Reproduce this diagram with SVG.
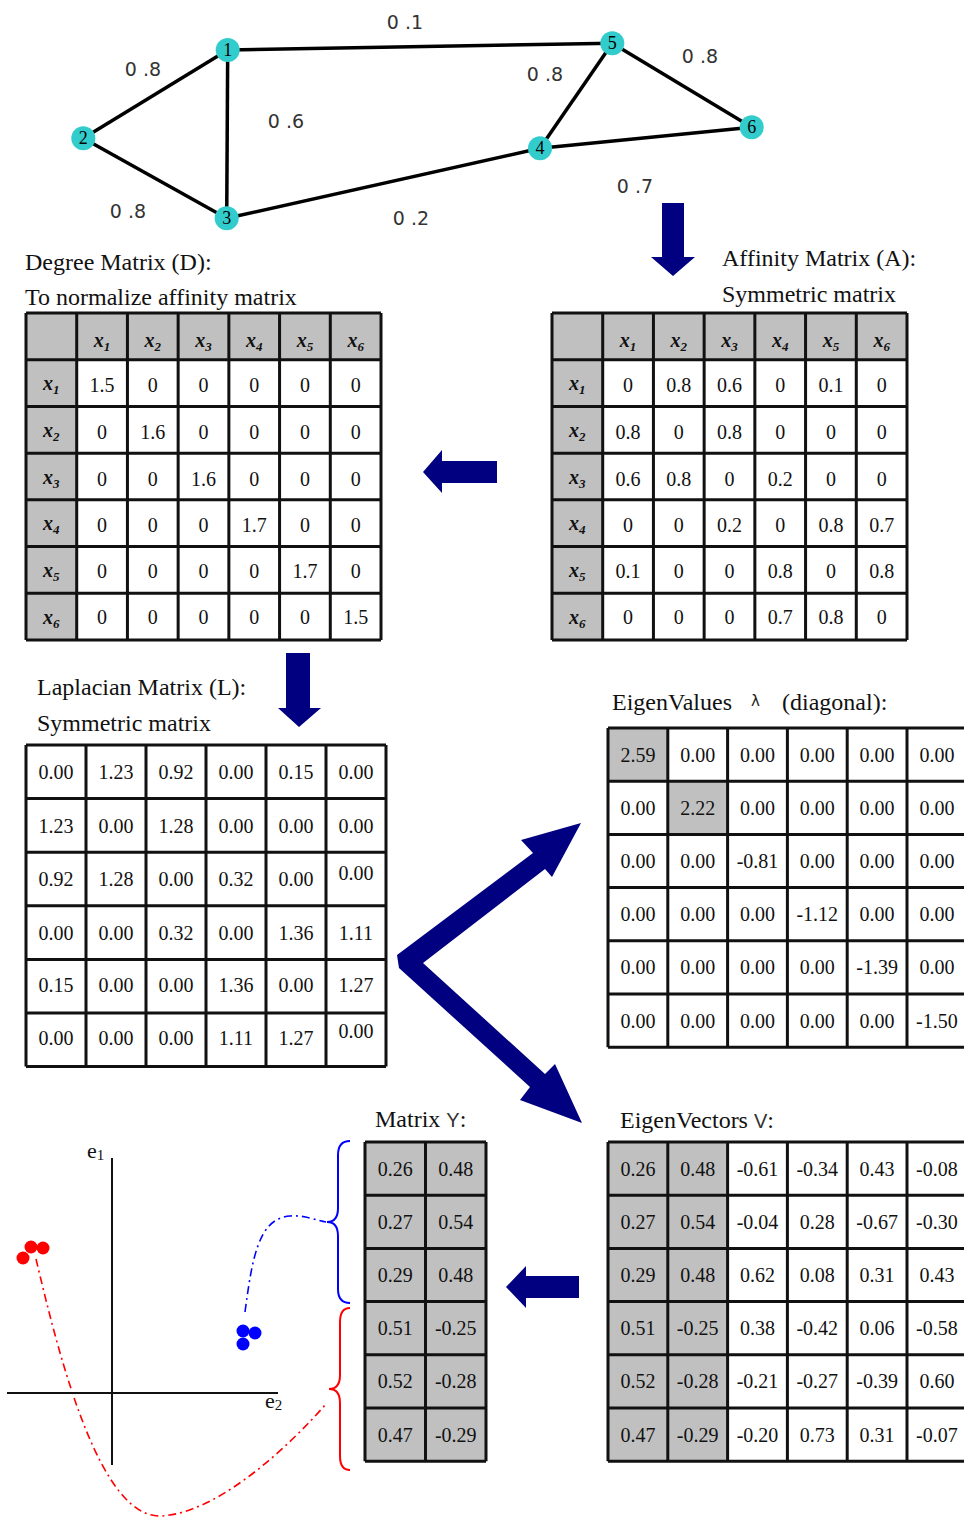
<svg xmlns="http://www.w3.org/2000/svg" width="964" height="1517" viewBox="0 0 964 1517">
<style>
.t{font-family:"Liberation Serif",serif;font-size:20px;text-anchor:middle;fill:#111}
.h{font-family:"Liberation Serif",serif;font-size:20px;font-style:italic;font-weight:bold;text-anchor:middle;fill:#111}
.lbl{font-family:"Liberation Serif",serif;font-size:24px;fill:#111}
.el{font-family:"DejaVu Sans",sans-serif;font-size:19px;fill:#333;text-anchor:middle}
.nl{font-family:"Liberation Serif",serif;font-size:18px;fill:#000;text-anchor:middle}
.edge{stroke:#000;stroke-width:3.5;fill:none}
.node{fill:#33CCCC}
.grid{fill:none;stroke:#111;stroke-width:3}
.gray{fill:#c0c0c0}
.arrow{fill:#000080}
</style>
<rect width="964" height="1517" fill="#fff"/>

<g id="connectors">
  <line class="edge" x1="227.7" y1="50" x2="83.3" y2="138.3"/>
  <line class="edge" x1="227.7" y1="50" x2="226.7" y2="218.3"/>
  <line class="edge" x1="227.7" y1="50" x2="612.3" y2="43.3"/>
  <line class="edge" x1="83.3" y1="138.3" x2="226.7" y2="218.3"/>
  <line class="edge" x1="226.7" y1="218.3" x2="540" y2="148.3"/>
  <line class="edge" x1="540" y1="148.3" x2="612.3" y2="43.3"/>
  <line class="edge" x1="540" y1="148.3" x2="751.7" y2="127.3"/>
  <line class="edge" x1="612.3" y1="43.3" x2="751.7" y2="127.3"/>
  <polygon class="arrow" points="662,203 684,203 684,257 695,257 673,276 651,257 662,257"/>
  <polygon class="arrow" points="423,472 442,450 442,461 497,461 497,483 442,483 442,493"/>
  <polygon class="arrow" points="286,653 310,653 310,708 321,708 299,727 278,708 286,708"/>
  <polygon class="arrow" points="397,955 533,853 521,840 581,823 552,877 545,869 423,963 545,1074 555,1064 582,1123 520,1100 530,1087 399,968"/>
  <polygon class="arrow" points="506,1287 526,1266 526,1276 579,1276 579,1298 526,1298 526,1308"/>
  <path d="M350,1141 Q338,1141 338,1155 L338,1208 Q338,1222 327,1222 Q338,1222 338,1236 L338,1289 Q338,1303 350,1303" fill="none" stroke="#0000ff" stroke-width="2"/>
  <path d="M350,1308 Q340,1308 340,1322 L340,1375 Q340,1389 329,1389 Q340,1389 340,1403 L340,1456 Q340,1470 350,1470" fill="none" stroke="#ff0000" stroke-width="2"/>
  <path d="M245,1312 C252,1260 258,1218 290,1216 C305,1215 315,1220 326,1222" fill="none" stroke="#0000ff" stroke-width="1.6" stroke-dasharray="8,4,2,4"/>
  <path d="M36,1259 C60,1360 100,1520 162,1516 C220,1512 290,1445 326,1404" fill="none" stroke="#ff0000" stroke-width="1.6" stroke-dasharray="8,4,2,4"/>
</g>

<g id="edge-labels">
  <text class="el" x="405" y="29">0 .1</text>
  <text class="el" x="143" y="76">0 .8</text>
  <text class="el" x="286" y="128">0 .6</text>
  <text class="el" x="128" y="218">0 .8</text>
  <text class="el" x="411" y="225">0 .2</text>
  <text class="el" x="545" y="81">0 .8</text>
  <text class="el" x="700" y="63">0 .8</text>
  <text class="el" x="635" y="193">0 .7</text>
</g>

<g id="n1"><circle class="node" cx="227.7" cy="50" r="12"/><text class="nl" x="227.7" y="56">1</text></g>
<g id="n2"><circle class="node" cx="83.3" cy="138.3" r="12"/><text class="nl" x="83.3" y="144.3">2</text></g>
<g id="n3"><circle class="node" cx="226.7" cy="218.3" r="12"/><text class="nl" x="226.7" y="224.3">3</text></g>
<g id="n4"><circle class="node" cx="540" cy="148.3" r="12"/><text class="nl" x="540" y="154.3">4</text></g>
<g id="n5"><circle class="node" cx="612.3" cy="43.3" r="12"/><text class="nl" x="612.3" y="49.3">5</text></g>
<g id="n6"><circle class="node" cx="751.7" cy="127.3" r="12"/><text class="nl" x="751.7" y="133.3">6</text></g>

<g id="degree-matrix">
  <text class="lbl" x="25" y="270">Degree Matrix (D):</text>
  <text class="lbl" x="25" y="305">To normalize affinity matrix</text>
  <rect x="26" y="313" width="355" height="327" fill="#fff"/>
  <rect class="gray" x="26" y="313" width="355" height="46.71"/>
  <rect class="gray" x="26" y="313" width="50.71" height="327"/>
  <path class="grid" d="M26,313V640M76.71,313V640M127.43,313V640M178.14,313V640M228.86,313V640M279.57,313V640M330.29,313V640M381,313V640M26,313H381M26,359.71H381M26,406.43H381M26,453.14H381M26,499.86H381M26,546.57H381M26,593.29H381M26,640H381"/>
  <text class="h" x="102.07" y="347"><tspan>x</tspan><tspan font-size="13" dy="4">1</tspan></text>
  <text class="h" x="152.79" y="347"><tspan>x</tspan><tspan font-size="13" dy="4">2</tspan></text>
  <text class="h" x="203.5" y="347"><tspan>x</tspan><tspan font-size="13" dy="4">3</tspan></text>
  <text class="h" x="254.21" y="347"><tspan>x</tspan><tspan font-size="13" dy="4">4</tspan></text>
  <text class="h" x="304.93" y="347"><tspan>x</tspan><tspan font-size="13" dy="4">5</tspan></text>
  <text class="h" x="355.64" y="347"><tspan>x</tspan><tspan font-size="13" dy="4">6</tspan></text>
  <text class="h" x="51.36" y="390"><tspan>x</tspan><tspan font-size="13" dy="4">1</tspan></text>
  <text class="h" x="51.36" y="437"><tspan>x</tspan><tspan font-size="13" dy="4">2</tspan></text>
  <text class="h" x="51.36" y="483.5"><tspan>x</tspan><tspan font-size="13" dy="4">3</tspan></text>
  <text class="h" x="51.36" y="530"><tspan>x</tspan><tspan font-size="13" dy="4">4</tspan></text>
  <text class="h" x="51.36" y="577"><tspan>x</tspan><tspan font-size="13" dy="4">5</tspan></text>
  <text class="h" x="51.36" y="623.5"><tspan>x</tspan><tspan font-size="13" dy="4">6</tspan></text>
  <text class="t" x="102.07" y="392">1.5</text><text class="t" x="152.79" y="392">0</text><text class="t" x="203.5" y="392">0</text><text class="t" x="254.21" y="392">0</text><text class="t" x="304.93" y="392">0</text><text class="t" x="355.64" y="392">0</text>
  <text class="t" x="102.07" y="439">0</text><text class="t" x="152.79" y="439">1.6</text><text class="t" x="203.5" y="439">0</text><text class="t" x="254.21" y="439">0</text><text class="t" x="304.93" y="439">0</text><text class="t" x="355.64" y="439">0</text>
  <text class="t" x="102.07" y="485.5">0</text><text class="t" x="152.79" y="485.5">0</text><text class="t" x="203.5" y="485.5">1.6</text><text class="t" x="254.21" y="485.5">0</text><text class="t" x="304.93" y="485.5">0</text><text class="t" x="355.64" y="485.5">0</text>
  <text class="t" x="102.07" y="531.5">0</text><text class="t" x="152.79" y="531.5">0</text><text class="t" x="203.5" y="531.5">0</text><text class="t" x="254.21" y="531.5">1.7</text><text class="t" x="304.93" y="531.5">0</text><text class="t" x="355.64" y="531.5">0</text>
  <text class="t" x="102.07" y="578">0</text><text class="t" x="152.79" y="578">0</text><text class="t" x="203.5" y="578">0</text><text class="t" x="254.21" y="578">0</text><text class="t" x="304.93" y="578">1.7</text><text class="t" x="355.64" y="578">0</text>
  <text class="t" x="102.07" y="624">0</text><text class="t" x="152.79" y="624">0</text><text class="t" x="203.5" y="624">0</text><text class="t" x="254.21" y="624">0</text><text class="t" x="304.93" y="624">0</text><text class="t" x="355.64" y="624">1.5</text>
</g>

<g id="affinity-matrix">
  <text class="lbl" x="722" y="266">Affinity Matrix (A):</text>
  <text class="lbl" x="722" y="302">Symmetric matrix</text>
  <rect x="552" y="313" width="355" height="327" fill="#fff"/>
  <rect class="gray" x="552" y="313" width="355" height="46.71"/>
  <rect class="gray" x="552" y="313" width="50.71" height="327"/>
  <path class="grid" d="M552,313V640M602.71,313V640M653.43,313V640M704.14,313V640M754.86,313V640M805.57,313V640M856.29,313V640M907,313V640M552,313H907M552,359.71H907M552,406.43H907M552,453.14H907M552,499.86H907M552,546.57H907M552,593.29H907M552,640H907"/>
  <text class="h" x="628.07" y="347"><tspan>x</tspan><tspan font-size="13" dy="4">1</tspan></text>
  <text class="h" x="678.79" y="347"><tspan>x</tspan><tspan font-size="13" dy="4">2</tspan></text>
  <text class="h" x="729.5" y="347"><tspan>x</tspan><tspan font-size="13" dy="4">3</tspan></text>
  <text class="h" x="780.21" y="347"><tspan>x</tspan><tspan font-size="13" dy="4">4</tspan></text>
  <text class="h" x="830.93" y="347"><tspan>x</tspan><tspan font-size="13" dy="4">5</tspan></text>
  <text class="h" x="881.64" y="347"><tspan>x</tspan><tspan font-size="13" dy="4">6</tspan></text>
  <text class="h" x="577.36" y="390"><tspan>x</tspan><tspan font-size="13" dy="4">1</tspan></text>
  <text class="h" x="577.36" y="437"><tspan>x</tspan><tspan font-size="13" dy="4">2</tspan></text>
  <text class="h" x="577.36" y="483.5"><tspan>x</tspan><tspan font-size="13" dy="4">3</tspan></text>
  <text class="h" x="577.36" y="530"><tspan>x</tspan><tspan font-size="13" dy="4">4</tspan></text>
  <text class="h" x="577.36" y="577"><tspan>x</tspan><tspan font-size="13" dy="4">5</tspan></text>
  <text class="h" x="577.36" y="623.5"><tspan>x</tspan><tspan font-size="13" dy="4">6</tspan></text>
  <text class="t" x="628.07" y="392">0</text><text class="t" x="678.79" y="392">0.8</text><text class="t" x="729.5" y="392">0.6</text><text class="t" x="780.21" y="392">0</text><text class="t" x="830.93" y="392">0.1</text><text class="t" x="881.64" y="392">0</text>
  <text class="t" x="628.07" y="439">0.8</text><text class="t" x="678.79" y="439">0</text><text class="t" x="729.5" y="439">0.8</text><text class="t" x="780.21" y="439">0</text><text class="t" x="830.93" y="439">0</text><text class="t" x="881.64" y="439">0</text>
  <text class="t" x="628.07" y="485.5">0.6</text><text class="t" x="678.79" y="485.5">0.8</text><text class="t" x="729.5" y="485.5">0</text><text class="t" x="780.21" y="485.5">0.2</text><text class="t" x="830.93" y="485.5">0</text><text class="t" x="881.64" y="485.5">0</text>
  <text class="t" x="628.07" y="531.5">0</text><text class="t" x="678.79" y="531.5">0</text><text class="t" x="729.5" y="531.5">0.2</text><text class="t" x="780.21" y="531.5">0</text><text class="t" x="830.93" y="531.5">0.8</text><text class="t" x="881.64" y="531.5">0.7</text>
  <text class="t" x="628.07" y="578">0.1</text><text class="t" x="678.79" y="578">0</text><text class="t" x="729.5" y="578">0</text><text class="t" x="780.21" y="578">0.8</text><text class="t" x="830.93" y="578">0</text><text class="t" x="881.64" y="578">0.8</text>
  <text class="t" x="628.07" y="624">0</text><text class="t" x="678.79" y="624">0</text><text class="t" x="729.5" y="624">0</text><text class="t" x="780.21" y="624">0.7</text><text class="t" x="830.93" y="624">0.8</text><text class="t" x="881.64" y="624">0</text>
</g>

<g id="laplacian-matrix">
  <text class="lbl" x="37" y="695">Laplacian Matrix (L):</text>
  <text class="lbl" x="37" y="731">Symmetric matrix</text>
  <rect x="26" y="745" width="360" height="321.6" fill="#fff"/>
  <path class="grid" d="M26,745V1066.6M86,745V1066.6M146,745V1066.6M206,745V1066.6M266,745V1066.6M326,745V1066.6M386,745V1066.6M26,745H386M26,798.6H386M26,852.2H386M26,905.8H386M26,959.4H386M26,1013H386M26,1066.6H386"/>
  <text class="t" x="56" y="779">0.00</text><text class="t" x="116" y="779">1.23</text><text class="t" x="176" y="779">0.92</text><text class="t" x="236" y="779">0.00</text><text class="t" x="296" y="779">0.15</text><text class="t" x="356" y="779">0.00</text>
  <text class="t" x="56" y="833">1.23</text><text class="t" x="116" y="833">0.00</text><text class="t" x="176" y="833">1.28</text><text class="t" x="236" y="833">0.00</text><text class="t" x="296" y="833">0.00</text><text class="t" x="356" y="833">0.00</text>
  <text class="t" x="56" y="886">0.92</text><text class="t" x="116" y="886">1.28</text><text class="t" x="176" y="886">0.00</text><text class="t" x="236" y="886">0.32</text><text class="t" x="296" y="886">0.00</text><text class="t" x="356" y="880">0.00</text>
  <text class="t" x="56" y="940">0.00</text><text class="t" x="116" y="940">0.00</text><text class="t" x="176" y="940">0.32</text><text class="t" x="236" y="940">0.00</text><text class="t" x="296" y="940">1.36</text><text class="t" x="356" y="940">1.11</text>
  <text class="t" x="56" y="992">0.15</text><text class="t" x="116" y="992">0.00</text><text class="t" x="176" y="992">0.00</text><text class="t" x="236" y="992">1.36</text><text class="t" x="296" y="992">0.00</text><text class="t" x="356" y="992">1.27</text>
  <text class="t" x="56" y="1045">0.00</text><text class="t" x="116" y="1045">0.00</text><text class="t" x="176" y="1045">0.00</text><text class="t" x="236" y="1045">1.11</text><text class="t" x="296" y="1045">1.27</text><text class="t" x="356" y="1038">0.00</text>
</g>

<g id="eigenvalues">
  <text class="lbl" x="612" y="710">EigenValues</text>
  <text x="751" y="706" style="font-family:'DejaVu Sans',sans-serif;font-size:15px;fill:#222">λ</text>
  <text class="lbl" x="782" y="710">(diagonal):</text>
  <rect x="608" y="728" width="360" height="319.2" fill="#fff"/>
  <rect class="gray" x="608" y="728" width="59.8" height="53.2"/>
  <rect class="gray" x="667.8" y="781.2" width="59.8" height="53.2"/>
  <path class="grid" d="M608,728V1047.2M667.8,728V1047.2M727.6,728V1047.2M787.4,728V1047.2M847.2,728V1047.2M907,728V1047.2M608,728H968M608,781.2H968M608,834.4H968M608,887.6H968M608,940.8H968M608,994H968M608,1047.2H968"/>
  <text class="t" x="637.9" y="761.6">2.59</text><text class="t" x="697.7" y="761.6">0.00</text><text class="t" x="757.5" y="761.6">0.00</text><text class="t" x="817.3" y="761.6">0.00</text><text class="t" x="877.1" y="761.6">0.00</text><text class="t" x="936.9" y="761.6">0.00</text>
  <text class="t" x="637.9" y="814.8">0.00</text><text class="t" x="697.7" y="814.8">2.22</text><text class="t" x="757.5" y="814.8">0.00</text><text class="t" x="817.3" y="814.8">0.00</text><text class="t" x="877.1" y="814.8">0.00</text><text class="t" x="936.9" y="814.8">0.00</text>
  <text class="t" x="637.9" y="868">0.00</text><text class="t" x="697.7" y="868">0.00</text><text class="t" x="757.5" y="868">-0.81</text><text class="t" x="817.3" y="868">0.00</text><text class="t" x="877.1" y="868">0.00</text><text class="t" x="936.9" y="868">0.00</text>
  <text class="t" x="637.9" y="921.2">0.00</text><text class="t" x="697.7" y="921.2">0.00</text><text class="t" x="757.5" y="921.2">0.00</text><text class="t" x="817.3" y="921.2">-1.12</text><text class="t" x="877.1" y="921.2">0.00</text><text class="t" x="936.9" y="921.2">0.00</text>
  <text class="t" x="637.9" y="974.4">0.00</text><text class="t" x="697.7" y="974.4">0.00</text><text class="t" x="757.5" y="974.4">0.00</text><text class="t" x="817.3" y="974.4">0.00</text><text class="t" x="877.1" y="974.4">-1.39</text><text class="t" x="936.9" y="974.4">0.00</text>
  <text class="t" x="637.9" y="1027.6">0.00</text><text class="t" x="697.7" y="1027.6">0.00</text><text class="t" x="757.5" y="1027.6">0.00</text><text class="t" x="817.3" y="1027.6">0.00</text><text class="t" x="877.1" y="1027.6">0.00</text><text class="t" x="936.9" y="1027.6">-1.50</text>
</g>

<g id="eigenvectors">
  <text class="lbl" x="620" y="1128">EigenVectors <tspan style="font-family:'Liberation Sans',sans-serif;font-size:20px;fill:#333">V</tspan>:</text>
  <rect x="608" y="1142" width="360" height="319.2" fill="#fff"/>
  <rect class="gray" x="608" y="1142" width="119.6" height="319.2"/>
  <path class="grid" d="M608,1142V1461.2M667.8,1142V1461.2M727.6,1142V1461.2M787.4,1142V1461.2M847.2,1142V1461.2M907,1142V1461.2M608,1142H968M608,1195.2H968M608,1248.4H968M608,1301.6H968M608,1354.8H968M608,1408H968M608,1461.2H968"/>
  <text class="t" x="637.9" y="1175.6">0.26</text><text class="t" x="697.7" y="1175.6">0.48</text><text class="t" x="757.5" y="1175.6">-0.61</text><text class="t" x="817.3" y="1175.6">-0.34</text><text class="t" x="877.1" y="1175.6">0.43</text><text class="t" x="936.9" y="1175.6">-0.08</text>
  <text class="t" x="637.9" y="1228.8">0.27</text><text class="t" x="697.7" y="1228.8">0.54</text><text class="t" x="757.5" y="1228.8">-0.04</text><text class="t" x="817.3" y="1228.8">0.28</text><text class="t" x="877.1" y="1228.8">-0.67</text><text class="t" x="936.9" y="1228.8">-0.30</text>
  <text class="t" x="637.9" y="1282">0.29</text><text class="t" x="697.7" y="1282">0.48</text><text class="t" x="757.5" y="1282">0.62</text><text class="t" x="817.3" y="1282">0.08</text><text class="t" x="877.1" y="1282">0.31</text><text class="t" x="936.9" y="1282">0.43</text>
  <text class="t" x="637.9" y="1335.2">0.51</text><text class="t" x="697.7" y="1335.2">-0.25</text><text class="t" x="757.5" y="1335.2">0.38</text><text class="t" x="817.3" y="1335.2">-0.42</text><text class="t" x="877.1" y="1335.2">0.06</text><text class="t" x="936.9" y="1335.2">-0.58</text>
  <text class="t" x="637.9" y="1388.4">0.52</text><text class="t" x="697.7" y="1388.4">-0.28</text><text class="t" x="757.5" y="1388.4">-0.21</text><text class="t" x="817.3" y="1388.4">-0.27</text><text class="t" x="877.1" y="1388.4">-0.39</text><text class="t" x="936.9" y="1388.4">0.60</text>
  <text class="t" x="637.9" y="1441.6">0.47</text><text class="t" x="697.7" y="1441.6">-0.29</text><text class="t" x="757.5" y="1441.6">-0.20</text><text class="t" x="817.3" y="1441.6">0.73</text><text class="t" x="877.1" y="1441.6">0.31</text><text class="t" x="936.9" y="1441.6">-0.07</text>
</g>

<g id="matrix-y">
  <text class="lbl" x="375" y="1127">Matrix <tspan style="font-family:'Liberation Sans',sans-serif;font-size:20px;fill:#333">Y</tspan>:</text>
  <rect class="gray" x="365" y="1142" width="121" height="319.2"/>
  <path class="grid" d="M365,1142V1461.2M425.5,1142V1461.2M486,1142V1461.2M365,1142H486M365,1195.2H486M365,1248.4H486M365,1301.6H486M365,1354.8H486M365,1408H486M365,1461.2H486"/>
  <text class="t" x="395.25" y="1175.6">0.26</text><text class="t" x="455.75" y="1175.6">0.48</text>
  <text class="t" x="395.25" y="1228.8">0.27</text><text class="t" x="455.75" y="1228.8">0.54</text>
  <text class="t" x="395.25" y="1282">0.29</text><text class="t" x="455.75" y="1282">0.48</text>
  <text class="t" x="395.25" y="1335.2">0.51</text><text class="t" x="455.75" y="1335.2">-0.25</text>
  <text class="t" x="395.25" y="1388.4">0.52</text><text class="t" x="455.75" y="1388.4">-0.28</text>
  <text class="t" x="395.25" y="1441.6">0.47</text><text class="t" x="455.75" y="1441.6">-0.29</text>
</g>

<g id="scatter-plot">
  <line x1="112" y1="1158" x2="112" y2="1465" stroke="#111" stroke-width="2"/>
  <line x1="7" y1="1393" x2="278" y2="1393" stroke="#111" stroke-width="2"/>
  <text x="87" y="1158" style="font-family:'Liberation Serif',serif;font-size:22px;fill:#111">e<tspan font-size="15" dy="2">1</tspan></text>
  <text x="265" y="1408" style="font-family:'Liberation Serif',serif;font-size:22px;fill:#111">e<tspan font-size="15" dy="2">2</tspan></text>
  <circle cx="23" cy="1258" r="6.5" fill="#ff0000"/>
  <circle cx="31" cy="1247" r="6.5" fill="#ff0000"/>
  <circle cx="43" cy="1248" r="6.5" fill="#ff0000"/>
  <circle cx="243" cy="1331" r="6.5" fill="#0000ff"/>
  <circle cx="255" cy="1333" r="6.5" fill="#0000ff"/>
  <circle cx="243" cy="1344" r="6.5" fill="#0000ff"/>
</g>
</svg>
